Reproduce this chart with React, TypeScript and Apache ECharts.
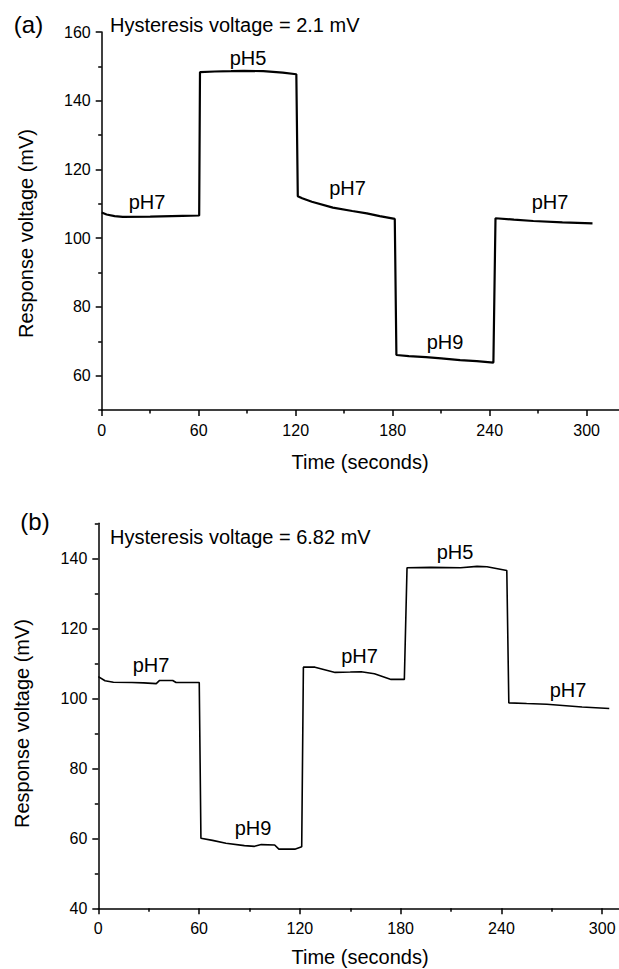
import React, { useEffect, useRef } from "react";
import * as echarts from "echarts";

// ---- Data: panel (a) ----
const timeA = [0, 3, 8, 13, 30, 50, 60.3, 60.8, 70, 80, 88, 100, 112, 120.4, 121.3, 124, 130, 143, 155, 164, 172, 181.3, 182.3, 190, 200.6, 210, 221.7, 232, 242.3, 243.6, 255, 267, 285, 303.6];
const voltA = [107.5, 106.9, 106.4, 106.2, 106.3, 106.5, 106.6, 148.3, 148.5, 148.6, 148.7, 148.6, 148.2, 147.7, 112.2, 111.6, 110.6, 108.9, 107.9, 107.2, 106.4, 105.6, 66.0, 65.7, 65.4, 65.0, 64.5, 64.2, 63.8, 105.8, 105.4, 105.0, 104.6, 104.3];

// ---- Data: panel (b) ----
const timeB = [0, 4, 9, 20, 27, 34.5, 36.5, 44.3, 46.3, 60.1, 61.1, 68, 76, 87, 93, 97, 105, 107.5, 117, 121.1, 122.1, 129, 141, 150, 156.5, 164.4, 174.3, 182.2, 183.8, 198, 215.7, 225.5, 231.4, 243.2, 244.4, 255, 267, 288, 304.2];
const voltB = [106.2, 105.0, 104.6, 104.5, 104.4, 104.2, 105.1, 105.1, 104.5, 104.5, 60.0, 59.4, 58.6, 57.9, 57.7, 58.2, 58.1, 56.9, 56.9, 57.6, 108.9, 108.9, 107.4, 107.5, 107.6, 107.0, 105.4, 105.4, 137.3, 137.4, 137.3, 137.7, 137.6, 136.5, 98.7, 98.5, 98.3, 97.5, 97.1];

// ---- Ticks ----
const xMajorTicks = [0, 60, 120, 180, 240, 300];
const xMinorTicks = [30, 90, 150, 210, 270];
const yMajorA = [60, 80, 100, 120, 140, 160];
const yMinorA = [50, 70, 90, 110, 130, 150];
const yMajorB = [40, 60, 80, 100, 120, 140];
const yMinorB = [50, 70, 90, 110, 130, 150];

// ---- Texts ----
const panelA = "(a)";
const panelB = "(b)";
const hysteresisA = "Hysteresis voltage = 2.1 mV";
const hysteresisB = "Hysteresis voltage = 6.82 mV";
const labelsA = ["pH7", "pH5", "pH7", "pH9", "pH7"];
const labelsB = ["pH7", "pH9", "pH7", "pH5", "pH7"];
const xTitle = "Time (seconds)";
const yTitle = "Response voltage (mV)";

const FONT = "'Liberation Sans', Arial, Helvetica, sans-serif";

function mkXAxis(grid: number, min: number, max: number, ticks: number[], minor: boolean) {
  return {
    type: "value",
    gridIndex: grid,
    min,
    max,
    position: "bottom",
    axisLine: { show: !minor, onZero: false, lineStyle: { color: "#000", width: 1.5 } },
    axisTick: { show: true, customValues: ticks, length: minor ? 3.5 : 6, lineStyle: { color: "#000", width: 1.5 } },
    axisLabel: minor
      ? { show: false }
      : { show: true, customValues: ticks, margin: 12, color: "#000", fontSize: 16, fontFamily: FONT },
    splitLine: { show: false },
  };
}

function mkYAxis(grid: number, min: number, max: number, ticks: number[], minor: boolean) {
  return {
    type: "value",
    gridIndex: grid,
    min,
    max,
    position: "left",
    axisLine: { show: !minor, onZero: false, lineStyle: { color: "#000", width: 1.5 } },
    axisTick: { show: true, customValues: ticks, length: minor ? 3.5 : 6, lineStyle: { color: "#000", width: 1.5 } },
    axisLabel: minor
      ? { show: false }
      : { show: true, customValues: ticks, margin: 11, color: "#000", fontSize: 16, fontFamily: FONT },
    splitLine: { show: false },
  };
}

function txt(text: string, x: number, y: number, size: number, align = "center", rotation = 0) {
  return {
    type: "text",
    x,
    y,
    rotation,
    silent: true,
    style: {
      text,
      fill: "#000",
      fontSize: size,
      fontFamily: FONT,
      align,
      verticalAlign: "middle",
    },
  };
}

export default function App() {
  const ref = useRef<HTMLDivElement>(null);

  useEffect(() => {
    if (!ref.current) return;
    const chart = echarts.init(ref.current, undefined, { renderer: "svg" });
    const posA = [
      [147, 201.5],
      [248, 57.5],
      [347.5, 187.5],
      [445, 341.5],
      [550, 201.5],
    ];
    const posB = [
      [151, 665],
      [253, 828],
      [359.5, 655.5],
      [455, 551.7],
      [568, 689.5],
    ];
    const option = {
      animation: false,
      backgroundColor: "#fff",
      grid: [
        { left: 101.7, top: 32, width: 517.3, height: 378, containLabel: false },
        { left: 98.3, top: 523.3, width: 525, height: 385, containLabel: false },
      ],
      xAxis: [
        mkXAxis(0, 0, 320, xMajorTicks, false),
        mkXAxis(0, 0, 320, xMinorTicks, true),
        mkXAxis(1, 0, 310, xMajorTicks, false),
        mkXAxis(1, 0, 310, xMinorTicks, true),
      ],
      yAxis: [
        mkYAxis(0, 50, 160, yMajorA, false),
        mkYAxis(0, 50, 160, yMinorA, true),
        mkYAxis(1, 40, 150, yMajorB, false),
        mkYAxis(1, 40, 150, yMinorB, true),
      ],
      series: [
        {
          type: "line",
          xAxisIndex: 0,
          yAxisIndex: 0,
          data: timeA.map((t, i) => [t, voltA[i]]),
          showSymbol: false,
          symbol: "none",
          lineStyle: { color: "#000", width: 2.2 },
          silent: true,
        },
        {
          type: "line",
          xAxisIndex: 2,
          yAxisIndex: 2,
          data: timeB.map((t, i) => [t, voltB[i]]),
          showSymbol: false,
          symbol: "none",
          lineStyle: { color: "#000", width: 1.6 },
          silent: true,
        },
      ],
      graphic: [
        txt(panelA, 28.5, 24, 24),
        txt(panelB, 35, 521, 24),
        txt(hysteresisA, 110, 25, 20, "left"),
        txt(hysteresisB, 110, 537, 20, "left"),
        ...labelsA.map((l, i) => txt(l, posA[i][0], posA[i][1], 20)),
        ...labelsB.map((l, i) => txt(l, posB[i][0], posB[i][1], 20)),
        txt(xTitle, 360, 462, 20),
        txt(xTitle, 360, 957, 20),
        txt(yTitle, 26, 233.5, 20, "center", Math.PI / 2),
        txt(yTitle, 22, 723.5, 20, "center", Math.PI / 2),
      ],
    };
    chart.setOption(option as any);
    return () => chart.dispose();
  }, []);

  return (
    <div
      ref={ref}
      style={{ position: "absolute", left: 0, top: 0, width: 619, height: 969, background: "#fff" }}
    />
  );
}
